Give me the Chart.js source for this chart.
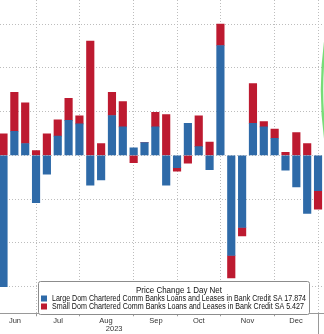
<!DOCTYPE html>
<html>
<head>
<meta charset="utf-8">
<script src="https://cdn.jsdelivr.net/npm/chart.js@4.4.1/dist/chart.umd.min.js"></script>
<style>
  html, body { margin: 0; padding: 0; background: #fff; }
</style>
</head>
<body>
<canvas id="chart" width="324" height="334"></canvas>
<script>
// weekly observations, Jun - Dec 2023
const weeks = ['Jun 9', 'Jun 16', 'Jun 23', 'Jun 30', 'Jul 7', 'Jul 14', 'Jul 21', 'Jul 28',
  'Aug 4', 'Aug 11', 'Aug 18', 'Aug 25', 'Sep 1', 'Sep 8', 'Sep 15', 'Sep 22', 'Sep 29',
  'Oct 6', 'Oct 13', 'Oct 20', 'Oct 27', 'Nov 3', 'Nov 10', 'Nov 17', 'Nov 24',
  'Dec 1', 'Dec 8', 'Dec 15', 'Dec 22', 'Dec 29'];

const large = [-30.0, 5.5, 2.7, -10.8, -4.3, 4.4, 8.0, 7.2, -6.8, -5.6, 9.1, 6.5, 1.7, 2.9, 6.5,
  -6.8, -2.8, 7.3, 2.0, -3.3, 25.1, -22.9, -16.5, 7.3, 6.5, 3.9, -3.4, -7.2, -13.3, -8.1];
const small = [4.9, 8.9, 9.3, 1.1, 4.9, 3.7, 5.0, 1.8, 26.1, 2.7, 5.3, 5.8, -1.7, 0, 3.3,
  9.3, -0.8, -1.8, 7.0, 3.0, 4.9, -5.1, -1.9, 9.1, 1.2, 2.1, 0.7, 5.2, 2.7, -4.2];

// month boundaries (week index) and month label positions
const monthEdges = [3, 7, 12, 16, 20, 25, 29];
const labelPos = [1.06, 5.03, 9.45, 10.2, 14.06, 18.0, 22.5, 26.97];
const labelText = ['Jun', 'Jul', 'Aug', ['', '2023'], 'Sep', 'Oct', 'Nov', 'Dec'];

const legendTitle = 'Price Change 1 Day Net';
const seriesNames = [
  'Large Dom Chartered Comm Banks Loans and Leases in Bank Credit SA 17.874',
  'Small Dom Chartered Comm Banks Loans and Leases in Bank Credit SA 5.427'
];
const blue = '#2e6aa8';
const red = '#bd1a30';

const xMin = -0.323, xMax = 29.55;
const toPoints = arr => arr.map((v, i) => ({ x: i, y: v }));

const extras = {
  id: 'extras',
  afterDraw(chart) {
    const ctx = chart.ctx;
    const area = chart.chartArea;
    const xs = chart.scales.x;
    ctx.save();

    // year separator below the axis
    const xe = Math.round(xs.getPixelForValue(monthEdges[monthEdges.length - 1])) + 0.5;
    ctx.strokeStyle = '#999';
    ctx.lineWidth = 1;
    ctx.beginPath();
    ctx.moveTo(xe, area.bottom);
    ctx.lineTo(xe, chart.height);
    ctx.stroke();

    // green highlight arc cut at the right edge
    ctx.strokeStyle = 'rgba(96, 214, 96, 0.85)';
    ctx.lineWidth = 2.5;
    ctx.beginPath();
    ctx.arc(676, 90, 354, Math.PI * 0.85, Math.PI * 1.15);
    ctx.stroke();

    // legend box
    const bx = 38.5, by = 281.5, bw = 271, bh = 33;
    ctx.fillStyle = '#fff';
    ctx.strokeStyle = '#8c8c8c';
    ctx.lineWidth = 1;
    ctx.beginPath();
    ctx.roundRect(bx, by, bw, bh, 2);
    ctx.fill();
    ctx.stroke();

    ctx.font = '8.5px "Liberation Sans"';
    ctx.fillStyle = '#111';
    ctx.textBaseline = 'middle';
    ctx.textAlign = 'center';
    ctx.fillText(legendTitle, 179, 290.5, 86);
    ctx.textAlign = 'left';
    const colors = [blue, red];
    seriesNames.forEach((name, i) => {
      const y = 298.5 + i * 8;
      ctx.fillStyle = colors[i];
      ctx.fillRect(41, y - 3, 6, 6);
      ctx.fillStyle = '#111';
      ctx.fillText(name, 52, y, 254 - i * 2);
    });
    ctx.restore();
  }
};

new Chart(document.getElementById('chart'), {
  type: 'bar',
  data: {
    datasets: [{
      label: seriesNames[0],
      data: toPoints(large),
      backgroundColor: blue,
      barThickness: 7.5
    }, {
      label: seriesNames[1],
      data: toPoints(small),
      backgroundColor: red,
      barThickness: 7.5
    }]
  },
  options: {
    responsive: false,
    animation: false,
    devicePixelRatio: 1,
    layout: { padding: 0 },
    plugins: {
      legend: { display: false },
      tooltip: { enabled: false }
    },
    scales: {
      x: {
        type: 'linear',
        position: 'bottom',
        stacked: true,
        min: xMin,
        max: xMax,
        offset: false,
        weight: 0,
        afterBuildTicks: s => { s.ticks = monthEdges.map(v => ({ value: v })); },
        ticks: { display: false },
        grid: { offset: false, color: '#bdbdbd', drawTicks: true, tickLength: 3, tickColor: '#999' },
        border: { display: true, color: '#999', dash: [1, 2] }
      },
      xm: {
        type: 'linear',
        position: 'bottom',
        min: xMin,
        max: xMax,
        offset: false,
        weight: 1,
        afterBuildTicks: s => { s.ticks = labelPos.map(v => ({ value: v })); },
        ticks: {
          autoSkip: false,
          maxRotation: 0,
          padding: 1,
          color: '#333',
          font: { family: 'Liberation Sans', size: 7.5, lineHeight: 1.05 },
          callback: (v, i) => labelText[i]
        },
        grid: { display: false, drawTicks: false },
        border: { display: false }
      },
      y: {
        type: 'linear',
        stacked: true,
        min: -36.1,
        max: 35.5,
        ticks: { display: false, stepSize: 10, includeBounds: false },
        grid: { color: '#bdbdbd', drawTicks: false },
        border: { display: false, dash: [1, 2] }
      }
    }
  },
  plugins: [extras]
});
</script>
</body>
</html>
